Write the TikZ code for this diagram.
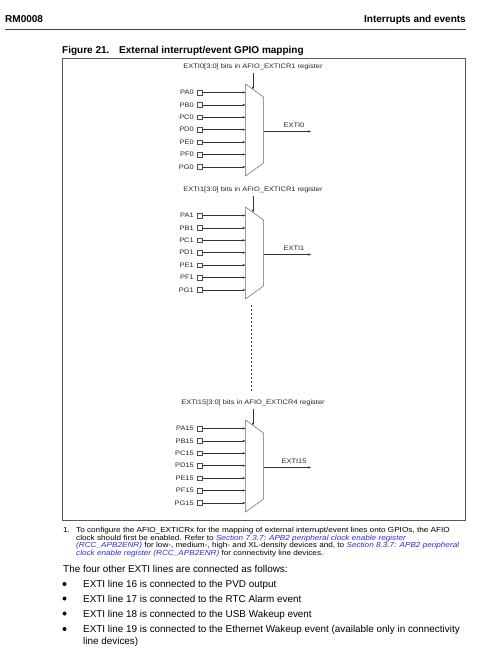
\documentclass[tikz,border=0pt]{standalone}
\usepackage{fontspec}
\setmainfont{Liberation Sans}
\newfontfamily\fnfont[FakeStretch=1.12]{Liberation Sans}
\newfontfamily\dgfont[FakeStretch=1.15]{Liberation Sans}
\usetikzlibrary{arrows.meta}
\definecolor{linkblue}{RGB}{45,45,215}
\newcommand\lnk[1]{\textcolor{linkblue}{\itshape #1}}
\newcommand\drawmux[5]{% #1 id, #2 top y, #3 bit field, #4 register no, #5 line no
  \begin{scope}[shift={(0,#2)}]
    \coordinate (#1-tl) at (245.5,0);
    \coordinate (#1-tr) at (263.5,13);
    \coordinate (#1-br) at (263.5,79);
    \coordinate (#1-bl) at (245.5,92);
    \draw[muxbody] (#1-tl) -- (#1-tr) -- (#1-br) -- (#1-bl) -- cycle;
    \node[lbl] (#1-reg) at (253,-17) {#3[3:0] bits in AFIO\_EXTICR#4 register};
    \coordinate (#1-selstart) at (253,-11);
    \coordinate (#1-sel) at (253,5.4);
    \draw[sig] (#1-selstart) -- (#1-sel);
    \foreach \p [count=\i from 0] in {A,B,C,D,E,F,G} {
      \node[pinbox] (#1-pin\p) at (199.5,8.5+12.4*\i) {};
      \node[lbl,anchor=east] (#1-lab\p) at (194,8.5+12.4*\i) {P\p#5};
      \coordinate (#1-in\p) at (245.5,8.5+12.4*\i);
      \draw[sig] (#1-pin\p) -- (#1-in\p);
    }
    \coordinate (#1-out) at (263.5,47.5);
    \coordinate (#1-end) at (311,47.5);
    \draw[sig] (#1-out) -- (#1-end);
    \node[lbl] (#1-outlab) at (294,41) {EXTI#5};
  \end{scope}}
\begin{document}
\begin{tikzpicture}[x=1pt,y=-1pt,
  hdr/.style={font=\fontsize{10}{12}\selectfont\bfseries, inner sep=0pt},
  ttl/.style={font=\fontsize{10}{12}\selectfont\bfseries, inner sep=0pt},
  lbl/.style={font=\dgfont\fontsize{6.5}{7}\selectfont, inner sep=0pt, text=black!85},
  pinbox/.style={draw=black!70, line width=0.5pt, minimum size=4.5pt, inner sep=0pt, fill=white},
  sig/.style={draw=black!80, line width=0.5pt, -{Stealth[length=3pt,width=2.2pt]}},
  muxbody/.style={draw=black!60, line width=0.5pt},
  framebox/.style={draw=black!65, line width=0.8pt},
  fn/.style={font=\fnfont\fontsize{7.3}{8}\selectfont, inner sep=0pt, anchor=base west},
  body/.style={font=\fontsize{9.9}{11}\selectfont, inner sep=0pt, anchor=base west},
  dot/.style={circle, fill=black, minimum size=4pt, inner sep=0pt}]
\useasboundingbox (0,0) rectangle (492,669);
\fill[white] (0,0) rectangle (492,669);
% header
\node[hdr,anchor=base west] (rm) at (5,22.5) {RM0008};
\node[hdr,anchor=base east] (ie) at (466,22.5) {Interrupts and events};
\coordinate (rulel) at (5,29);
\coordinate (ruler) at (466,29);
\draw[black!75, line width=0.8pt] (rulel) -- (ruler);
% title
\node[ttl,anchor=base west] (fignum) at (62,54) {Figure 21.};
\node[ttl,anchor=base west] (figtitle) at (119,54) {External interrupt/event GPIO mapping};
% frame
\coordinate (frtl) at (62,58);
\coordinate (frbr) at (465,520);
\draw[framebox] (frtl) rectangle (frbr);
% multiplexers
\drawmux{m0}{84}{EXTI0}{1}{0}
\drawmux{m1}{207}{EXTI1}{1}{1}
\drawmux{m15}{420}{EXTI15}{4}{15}
% dashed continuation
\coordinate (dashtop) at (251,305);
\coordinate (dashbot) at (251,392);
\draw[black!75, line width=0.5pt, dash pattern=on 2pt off 2pt] (dashtop) -- (dashbot);
% footnote
\node[fn] (fnnum) at (63,532.5) {1.};
\node[fn] (fn1) at (76,532.5) {To configure the AFIO\_EXTICRx for the mapping of external interrupt/event lines onto GPIOs, the AFIO};
\node[fn] (fn2) at (76,540) {clock should first be enabled. Refer to \lnk{Section 7.3.7: APB2 peripheral clock enable register}};
\node[fn] (fn3) at (76,547.5) {\lnk{(RCC\_APB2ENR)} for low-, medium-, high- and XL-density devices and, to \lnk{Section 8.3.7: APB2 peripheral}};
\node[fn] (fn4) at (76,555.5) {\lnk{clock enable register (RCC\_APB2ENR)} for connectivity line devices.};
% body
\node[body] (intro) at (63,572.5) {The four other EXTI lines are connected as follows:};
\node[dot] (d1) at (64.5,584) {};
\node[body] (b1) at (83,587.5) {EXTI line 16 is connected to the PVD output};
\node[dot] (d2) at (64.5,598.5) {};
\node[body] (b2) at (83,602) {EXTI line 17 is connected to the RTC Alarm event};
\node[dot] (d3) at (64.5,613.5) {};
\node[body] (b3) at (83,617) {EXTI line 18 is connected to the USB Wakeup event};
\node[dot] (d4) at (64.5,629) {};
\node[body] (b4) at (83,632.5) {EXTI line 19 is connected to the Ethernet Wakeup event (available only in connectivity};
\node[body] (b4b) at (83,644.5) {line devices)};
\end{tikzpicture}
\end{document}
